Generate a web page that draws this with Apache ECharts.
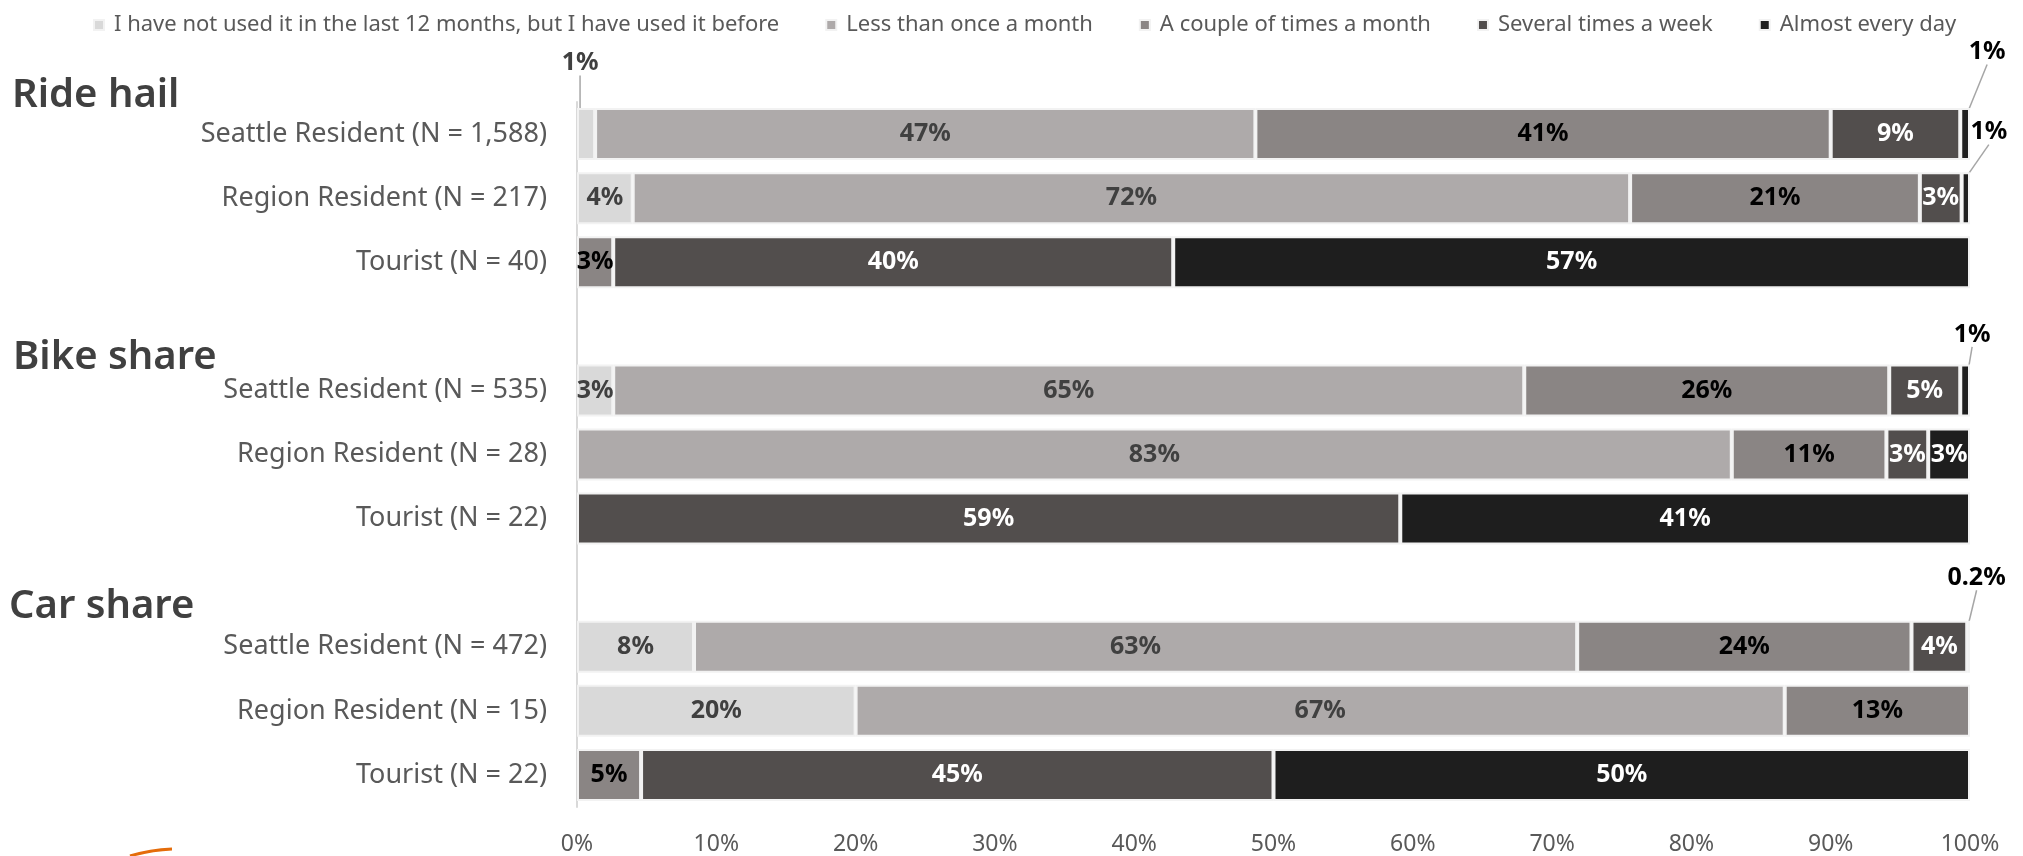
<!DOCTYPE html>
<html>
<head>
<meta charset="utf-8">
<title>Shared mobility use frequency</title>
<script src="https://cdn.jsdelivr.net/npm/echarts@6/dist/echarts.min.js"></script>
<style>
  html, body { margin: 0; padding: 0; background: #fff; }
  #main { width: 2023px; height: 856px; }
</style>
</head>
<body>
<div id="main"></div>
<script>
// rows (blank rows split the three services)
var categories = [
  'Seattle Resident (N = 1,588)', 'Region Resident (N = 217)', 'Tourist (N = 40)', '',
  'Seattle Resident (N = 535)', 'Region Resident (N = 28)', 'Tourist (N = 22)', ' ',
  'Seattle Resident (N = 472)', 'Region Resident (N = 15)', 'Tourist (N = 22) '
];
var groupTitles = ['Ride hail', 'Bike share', 'Car share'];
var seriesNames = [
  'I have not used it in the last 12 months, but I have used it before',
  'Less than once a month',
  'A couple of times a month',
  'Several times a week',
  'Almost every day'
];
var notRecently   = [1.3, 4.0, null, null, 2.6, null, null, null, 8.4, 20.0, null];
var lessThanMonth = [47.4, 71.6, null, null, 65.4, 82.9, null, null, 63.4, 66.7, null];
var coupleMonth   = [41.3, 20.8, 2.6, null, 26.2, 11.1, null, null, 24.0, 13.3, 4.6];
var severalWeek   = [9.3, 3.0, 40.2, null, 5.1, 3.0, 59.1, null, 4.0, null, 45.4];
var almostDaily   = [0.7, 0.6, 57.2, null, 0.7, 3.0, 40.9, null, 0.2, null, 50.0];
var xTicks = [0, 10, 20, 30, 40, 50, 60, 70, 80, 90, 100];

var colors = ['#d9d9d9', '#aeaaaa', '#8a8584', '#524e4d', '#1e1e1e'];
var labelColors = ['#404040', '#404040', '#000000', '#ffffff', '#ffffff'];

// small slices whose labels sit outside the bar with a leader line
var outside = {
  '0-0': [-6, -71],
  '4-0': [22, -82],
  '4-1': [23, -66],
  '4-4': [7, -56],
  '4-8': [8, -69]
};

var font = '"Noto Sans", "Open Sans", sans-serif';
var allValues = [notRecently, lessThanMonth, coupleMonth, severalWeek, almostDaily];

var series = allValues.map(function (vals, si) {
  return {
    name: seriesNames[si],
    type: 'bar',
    stack: 'total',
    barWidth: 52,
    itemStyle: { color: colors[si], borderColor: '#f2f2f2', borderWidth: 2 },
    label: {
      show: true,
      position: 'inside',
      fontFamily: font,
      fontSize: 25,
      fontWeight: 'bold',
      color: labelColors[si],
      formatter: function (p) {
        if (p.value == null) return '';
        return p.value < 0.5 ? p.value.toFixed(1) + '%' : Math.round(p.value) + '%';
      }
    },
    labelLine: { lineStyle: { color: '#a6a6a6', width: 1.5 } },
    labelLayout: function (p) {
      var o = outside[si + '-' + p.dataIndex];
      if (!o) return {};
      return { dx: o[0], dy: o[1] };
    },
    data: vals.map(function (v, i) {
      if (outside[si + '-' + i]) {
        return {
          value: v,
          label: { color: si === 0 ? '#404040' : '#000000' },
          labelLine: { show: true }
        };
      }
      return v;
    })
  };
});

var chart = echarts.init(document.getElementById('main'));
chart.setOption({
  animation: false,
  title: [
    { text: groupTitles[0], left: 12, top: 76 },
    { text: groupTitles[1], left: 13, top: 338 },
    { text: groupTitles[2], left: 9, top: 587 }
  ].map(function (t) {
    t.padding = 0;
    t.textStyle = { fontFamily: font, fontSize: 40, fontWeight: 600, color: '#404040' };
    return t;
  }),
  legend: {
    top: 9,
    left: 88,
    itemWidth: 10,
    itemHeight: 10,
    itemGap: 46,
    icon: 'rect',
    data: seriesNames,
    textStyle: { fontFamily: font, fontSize: 22, color: '#595959', padding: [0, 0, 0, 5] }
  },
  grid: { left: 577, right: 53, top: 102, bottom: 49 },
  xAxis: {
    type: 'value',
    min: xTicks[0],
    max: xTicks[xTicks.length - 1],
    interval: 10,
    axisLine: { show: false },
    axisTick: { show: false },
    splitLine: { show: false },
    axisLabel: { fontFamily: font, fontSize: 23, color: '#595959', margin: 26, formatter: '{value}%' }
  },
  yAxis: {
    type: 'category',
    inverse: true,
    data: categories,
    axisLine: { lineStyle: { color: '#d9d9d9', width: 2 } },
    axisTick: { show: false },
    axisLabel: {
      fontFamily: font, fontSize: 27, color: '#595959', margin: 30,
      formatter: function (v) { return v.trim(); }
    }
  },
  graphic: [{
    type: 'bezierCurve',
    shape: { x1: 130, y1: 856, x2: 172, y2: 849, cpx1: 150, cpy1: 850 },
    style: { stroke: '#e46c0a', lineWidth: 3, fill: null }
  }],
  series: series
});
</script>
</body>
</html>
